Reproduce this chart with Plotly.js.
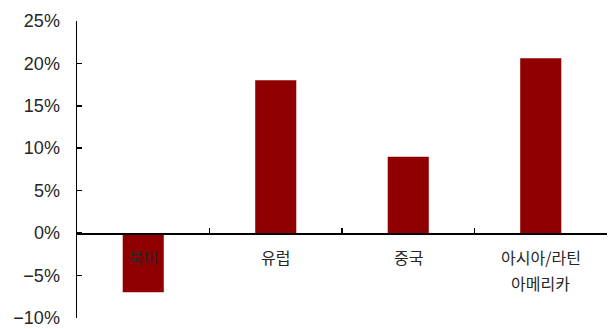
<!DOCTYPE html>
<html><head><meta charset="utf-8">
<script src="https://cdn.plot.ly/plotly-3.0.1.min.js"></script>
<style>body{margin:0;background:#fff}#c{width:613px;height:329px}</style>
</head><body><div id="c"></div>
<script>
const categories = ["북미", "유럽", "중국", "아시아/라틴 아메리카"];
const labelLines = [["북미"], ["유럽"], ["중국"], ["아시아/라틴", "아메리카"]];
const values = [-7.0, 18.0, 9.0, 20.6];
const yTickVals = [-10, -5, 0, 5, 10, 15, 20, 25];
const yTickText = ["−10%", "−5%", "0%", "5%", "10%", "15%", "20%", "25%"];

const numFont = {family: "Liberation Sans, Arial, sans-serif", size: 18, color: "#262626"};
const korFont = {family: "Noto Sans CJK KR, sans-serif", size: 16, color: "#262626"};

const annotations = [];
categories.forEach((c, i) => {
  labelLines[i].forEach((t, j) => {
    annotations.push({
      xref: "x", yref: "y", x: c, y: 0, text: t, showarrow: false,
      xanchor: "center", yanchor: "middle", yshift: -24 - 26 * j, font: korFont
    });
  });
});

Plotly.newPlot("c", [{
  type: "bar", x: categories, y: values,
  marker: {color: "#900000", line: {width: 0}},
  hoverinfo: "skip"
}], {
  width: 613, height: 329,
  margin: {l: 77, r: 6, t: 21, b: 11},
  paper_bgcolor: "#fff", plot_bgcolor: "#fff",
  bargap: 0.69,
  showlegend: false,
  annotations: annotations,
  xaxis: {
    anchor: "free", position: 10/35,
    showline: true, linecolor: "#000", linewidth: 1.5,
    ticks: "inside", tickson: "boundaries", ticklen: 5, tickcolor: "#000", tickwidth: 1.5,
    showgrid: false, zeroline: false, showticklabels: false,
    fixedrange: true
  },
  yaxis: {
    range: [-10.03, 25], tickvals: yTickVals, ticktext: yTickText,
    showline: true, linecolor: "#000", linewidth: 1.5,
    ticks: "inside", ticklen: 5, tickcolor: "#000", tickwidth: 1.5,
    showgrid: false, zeroline: false,
    tickfont: numFont,
    ticklabelstandoff: 12,
    ticklabeloverflow: "allow",
    fixedrange: true
  }
}, {displayModeBar: false, staticPlot: true});
</script></body></html>
